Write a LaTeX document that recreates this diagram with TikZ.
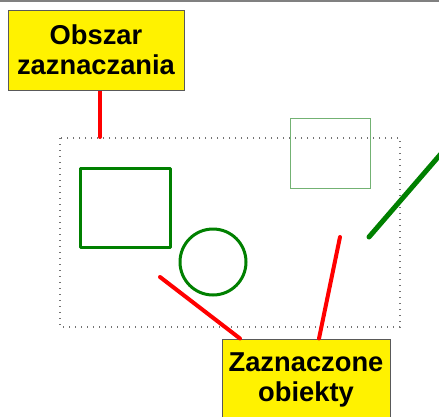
\documentclass[tikz,border=0pt]{standalone}
\usepackage{fontspec}
\setmainfont{Liberation Sans}
\tikzset{
  callout/.style={draw=black!65, line width=1pt, fill=yellow, inner sep=0pt,
    font=\bfseries\fontsize{27.3}{30}\selectfont, align=center},
  pointer/.style={draw=red, line width=4pt, line cap=round},
  shapeline/.style={draw=green!50!black, line width=3pt},
  selrect/.style={draw=black!55, line width=1.3pt, dash pattern=on 1.3pt off 4.7pt},
}
\begin{document}
\begin{tikzpicture}[x=1pt,y=-1pt]
\useasboundingbox (0,0) rectangle (439,416);
\clip (0,0) rectangle (439,416);
\fill[white] (0,0) rectangle (439,416);
\draw[black!50, line width=2pt] (0,1) -- (439,1);
% selection area
\draw[selrect] (60,138) rectangle (400,327);
% objects
\draw[shapeline, line join=round] (80,168) rectangle (170,247);
\draw[shapeline] (213,262) circle (33);
\draw[draw=green!45!black!55, line width=1pt] (290,118) rectangle (370,188);
\draw[draw=green!50!black, line width=5pt, line cap=round] (369,237) -- (452,141);
% callouts
\node[callout, minimum width=176pt, minimum height=80pt] (box1) at (96,50) {Obszar\\zaznaczania};
\node[callout, minimum width=168pt, minimum height=82pt] (box2) at (306,380) {Zaznaczone\\obiekty};
\coordinate (p1) at (100,137);
\coordinate (p2) at (160,277);
\coordinate (p3) at (340,237);
\draw[pointer, line cap=butt] (box1.south -| p1) -- (p1);
\fill[red] (p1) circle (2pt);
\draw[pointer] (p2) -- (box2.north -| 240,0);
\draw[pointer] (p3) -- (box2.north -| 319,0);
\end{tikzpicture}
\end{document}
